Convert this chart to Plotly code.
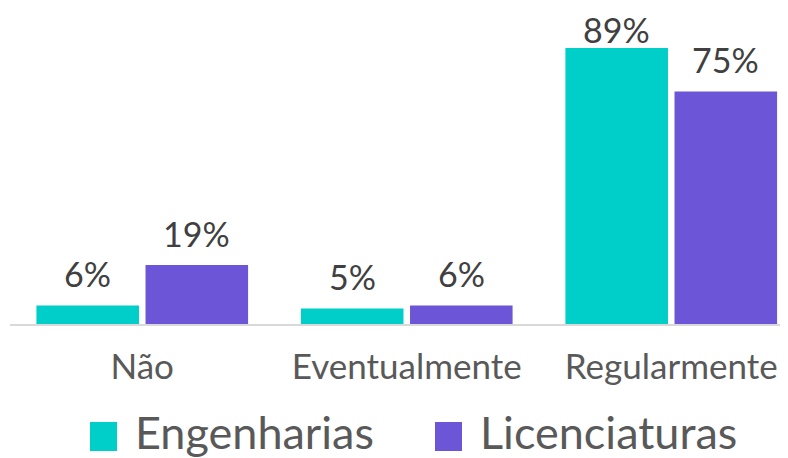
import plotly.graph_objects as go

categories = ["Não", "Eventualmente", "Regularmente"]
engenharias = [6, 5, 89]
licenciaturas = [19, 6, 75]
series_names = ["Engenharias", "Licenciaturas"]
colors = ["#00CEC9", "#6C55D6"]

# page body has an 8px margin, so the figure is drawn 8px in from the window corner
PAGE_OFF = 8
W, H = 788 - PAGE_OFF, 458 - PAGE_OFF
left, bottom = 10 - PAGE_OFF, 134
plot_w, plot_h = W - left, H - bottom
ymax = 101.9
bargap, bargroupgap = 0.175, 0.06
font_family = "Lato, 'Open Sans', sans-serif"

fig = go.Figure()
for name, vals, col in zip(series_names, [engenharias, licenciaturas], colors):
    fig.add_trace(go.Bar(
        x=categories, y=vals, name=name, marker=dict(color=col, line=dict(width=0)),
        showlegend=False,
    ))

# data labels
offset = (1 - bargap) / 4
for si, vals in enumerate([engenharias, licenciaturas]):
    for ci, v in enumerate(vals):
        top_px = plot_h * (1 - v / ymax)
        ys = min(9, top_px - 44)
        fig.add_annotation(
            x=ci + (offset if si else -offset), y=v, xref="x", yref="y",
            text=f"{v}%", showarrow=False, yanchor="bottom", yshift=ys,
            font=dict(family=font_family, size=34, color="#404040"),
        )

# legend drawn manually (page pixel positions)
def px_x(p):
    return (p - PAGE_OFF - left) / plot_w

def px_y(p):
    return (plot_h - (p - PAGE_OFF)) / plot_h

legend_items = [(90, 117, 133), (435, 462, 478)]
for (x0, x1, tx), name, col in zip(legend_items, series_names, colors):
    fig.add_shape(type="rect", xref="paper", yref="paper",
                  x0=px_x(x0), x1=px_x(x1), y0=px_y(451), y1=px_y(422),
                  fillcolor=col, line=dict(width=0))
    fig.add_annotation(x=px_x(tx), y=px_y(432), xref="paper", yref="paper",
                       text=name, showarrow=False, xanchor="left", yanchor="middle",
                       font=dict(family=font_family, size=45, color="#595959"))

fig.update_layout(
    width=W, height=H,
    margin=dict(l=left, r=0, t=0, b=bottom, autoexpand=False),
    paper_bgcolor="white", plot_bgcolor="white",
    barmode="group", bargap=bargap, bargroupgap=bargroupgap,
    showlegend=False,
    xaxis=dict(range=[-0.5, plot_w / 264.5 - 0.5], showline=True, linecolor="#D9D9D9",
               linewidth=1.5, ticks="", showgrid=False, automargin=False,
               ticklabelstandoff=11,
               tickfont=dict(family=font_family, size=35, color="#595959")),
    yaxis=dict(range=[0, ymax], visible=False, showgrid=False, automargin=False),
)

fig.write_html("out.html")
